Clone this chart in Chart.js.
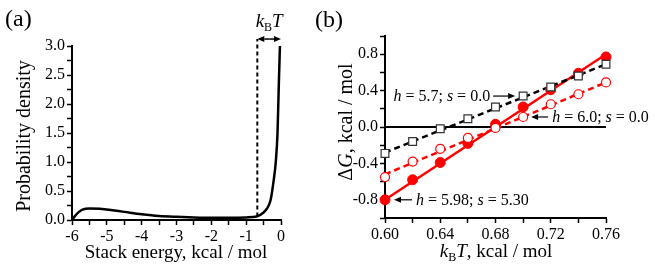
<!DOCTYPE html>
<html>
<head>
<meta charset="utf-8">
<script src="https://cdn.jsdelivr.net/npm/chart.js@4.4.1/dist/chart.umd.min.js"></script>
<style>
  html, body { margin: 0; padding: 0; background: #fff; }
  #wrap { position: relative; width: 655px; height: 276px; }
  .panel { position: absolute; top: 0; height: 276px; }
</style>
</head>
<body>
<div id="wrap">
  <div class="panel" style="left:0;width:300px"><canvas id="chartA" width="300" height="276"></canvas></div>
  <div class="panel" style="left:300px;width:355px"><canvas id="chartB" width="355" height="276"></canvas></div>
</div>
<script>
// panel (a): stack energy distribution
const energy  = [-6.0, -5.9, -5.8, -5.7, -5.5, -5.2, -5.0, -4.5, -4.0, -3.5, -3.0, -2.5, -2.0, -1.5, -1.0, -0.7, -0.5, -0.4, -0.3, -0.22, -0.15, -0.1, -0.06, -0.03];
const density = [0.0, 0.08, 0.14, 0.18, 0.20, 0.195, 0.18, 0.14, 0.10, 0.07, 0.055, 0.045, 0.04, 0.04, 0.045, 0.06, 0.13, 0.2, 0.34, 0.64, 1.0, 1.5, 2.4, 3.0];
const kbtWidth = 0.68;

// panel (b): free energy vs kBT
const temps  = [0.60, 0.62, 0.64, 0.66, 0.68, 0.70, 0.72, 0.74, 0.76];
const dgH57  = [-0.29, -0.16, -0.02, 0.09, 0.22, 0.34, 0.44, 0.56, 0.69];
const dgH60  = [-0.55, -0.38, -0.24, -0.12, -0.01, 0.11, 0.25, 0.36, 0.49];
const dgH598 = [-0.80, -0.58, -0.39, -0.18, 0.03, 0.22, 0.41, 0.59, 0.77];
const fitX   = [0.60, 0.76];
const fit57  = [-0.28, 0.69];
const fit60  = [-0.52, 0.49];
const fit598 = [-0.80, 0.80];
const noteText = ['h = 5.7; s = 0.0', 'h = 6.0; s = 0.0', 'h = 5.98; s = 5.30'];

const SERIF = '"Liberation Serif", "DejaVu Serif", serif';
const RED = '#ff0000';
Chart.defaults.font.family = SERIF;
Chart.defaults.color = '#000';

const pts = (xs, ys) => xs.map((x, i) => ({ x: x, y: ys[i] }));

function axis(min, max, step, label, size) {
  return {
    type: 'linear', min: min, max: max,
    grid: { drawOnChartArea: false, drawTicks: true, tickLength: 5, tickColor: '#000', tickWidth: 1.5 },
    border: { display: true, color: '#000', width: 2 },
    ticks: { stepSize: step, autoSkip: false, maxRotation: 0, minRotation: 0, color: '#000',
             font: { family: SERIF, size: 16 }, padding: 2, callback: label },
    afterFit: s => { if (s.isHorizontal()) s.height = size; else s.width = size; }
  };
}

// draws a run of text pieces with their own fonts
function richText(ctx, parts, x, y, align) {
  let w = 0;
  parts.forEach(p => { ctx.font = p.font; w += ctx.measureText(p.t).width; });
  let cx = align === 'right' ? x - w : (align === 'center' ? x - w / 2 : x);
  ctx.textAlign = 'left';
  ctx.textBaseline = 'alphabetic';
  parts.forEach(p => {
    ctx.font = p.font;
    ctx.fillText(p.t, cx, y + (p.dy || 0));
    cx += ctx.measureText(p.t).width;
  });
}

function noteParts(str, size) {
  return str.split(/([hs])/).filter(t => t).map(t => ({
    t: t, font: (t === 'h' || t === 's' ? 'italic ' : '') + size + 'px ' + SERIF
  }));
}

function arrow(ctx, x1, y1, x2, y2, head) {
  const a = Math.atan2(y2 - y1, x2 - x1);
  ctx.beginPath();
  ctx.moveTo(x1, y1);
  ctx.lineTo(x2 - head * Math.cos(a), y2 - head * Math.sin(a));
  ctx.stroke();
  ctx.beginPath();
  ctx.moveTo(x2, y2);
  ctx.lineTo(x2 - head * Math.cos(a) + 3 * Math.sin(a), y2 - head * Math.sin(a) - 3 * Math.cos(a));
  ctx.lineTo(x2 - head * Math.cos(a) - 3 * Math.sin(a), y2 - head * Math.sin(a) + 3 * Math.cos(a));
  ctx.closePath();
  ctx.fill();
}

const decorA = {
  id: 'decorA',
  afterDraw(chart) {
    const ctx = chart.ctx, x = chart.scales.x, y = chart.scales.y;
    ctx.save();
    ctx.fillStyle = '#000';
    ctx.strokeStyle = '#000';
    ctx.lineWidth = 1.5;
    // kBT bracket
    const ya = y.getPixelForValue(3.12);
    const x1 = x.getPixelForValue(-kbtWidth), x2 = x.getPixelForValue(0);
    arrow(ctx, (x1 + x2) / 2, ya, x2, ya, 7);
    arrow(ctx, (x1 + x2) / 2, ya, x1, ya, 7);
    richText(ctx, [
      { t: 'k', font: 'italic 19px ' + SERIF },
      { t: 'B', font: '12px ' + SERIF, dy: 4 },
      { t: 'T', font: 'italic 19px ' + SERIF }
    ], (x1 + x2) / 2, ya - 12, 'center');
    // panel letter and titles
    ctx.font = '24px ' + SERIF;
    ctx.fillText('(a)', 5, 26);
    richText(ctx, [{ t: 'Stack energy, kcal / mol', font: '19px ' + SERIF }], 176, 258, 'center');
    ctx.translate(30, 136);
    ctx.rotate(-Math.PI / 2);
    richText(ctx, [{ t: 'Probability density', font: '20px ' + SERIF }], 0, 0, 'center');
    ctx.restore();
  }
};

new Chart(document.getElementById('chartA'), {
  type: 'scatter',
  data: {
    datasets: [
      { data: pts(energy, density), showLine: true, borderColor: '#000', borderWidth: 2.5,
        pointRadius: 0, cubicInterpolationMode: 'monotone', clip: false },
      { data: [{ x: -kbtWidth, y: 0.06 }, { x: -kbtWidth, y: 3.12 }], showLine: true, borderColor: '#000',
        borderWidth: 2, borderDash: [4, 3], pointRadius: 0, clip: false }
    ]
  },
  options: {
    responsive: false, animation: false,
    layout: { padding: { left: 0, right: 19, top: 46, bottom: 0 } },
    plugins: { legend: { display: false }, tooltip: { enabled: false } },
    scales: {
      x: axis(-6, 0, 0.5, v => Math.abs(v - Math.round(v)) < 1e-6 ? String(Math.round(v)) : '', 56),
      y: axis(0, 3, 0.25, v => Math.round(v * 4) % 2 === 0 ? v.toFixed(1) : '', 72)
    }
  },
  plugins: [decorA]
});

const decorB = {
  id: 'decorB',
  afterDraw(chart) {
    const ctx = chart.ctx, x = chart.scales.x, y = chart.scales.y;
    ctx.save();
    ctx.fillStyle = '#000';
    ctx.strokeStyle = '#000';
    ctx.lineWidth = 1.2;
    const f = 16;
    // h = 5.7 note, pointing right at the square at 0.70
    let px = x.getPixelForValue(temps[5]), py = y.getPixelForValue(dgH57[5]);
    arrow(ctx, px - 30, py, px - 8, py, 7);
    richText(ctx, noteParts(noteText[0], f), px - 33, py + 5, 'right');
    // h = 6.0 note, pointing left at the circle at 0.70
    py = y.getPixelForValue(dgH60[5]);
    arrow(ctx, px + 25, py, px + 8, py, 7);
    richText(ctx, noteParts(noteText[1], f), px + 29, py + 5, 'left');
    // h = 5.98 note, pointing left at the first filled point
    px = x.getPixelForValue(temps[0]); py = y.getPixelForValue(dgH598[0]);
    arrow(ctx, px + 27, py, px + 9, py, 7);
    richText(ctx, noteParts(noteText[2], f), px + 31, py + 5, 'left');
    // panel letter and titles
    ctx.font = '24px ' + SERIF;
    ctx.textAlign = 'left';
    ctx.fillText('(b)', 15, 27);
    richText(ctx, [
      { t: 'k', font: 'italic 19px ' + SERIF },
      { t: 'B', font: '12px ' + SERIF, dy: 4 },
      { t: 'T', font: 'italic 19px ' + SERIF },
      { t: ', kcal / mol', font: '19px ' + SERIF }
    ], 196, 257, 'center');
    ctx.translate(52, 122);
    ctx.rotate(-Math.PI / 2);
    richText(ctx, [
      { t: '\u0394', font: '20px ' + SERIF },
      { t: 'G', font: 'italic 20px ' + SERIF },
      { t: ', kcal / mol', font: '20px ' + SERIF }
    ], 0, 0, 'center');
    ctx.restore();
  }
};

new Chart(document.getElementById('chartB'), {
  type: 'scatter',
  data: {
    datasets: [
      { data: pts(fitX, [0, 0]), showLine: true, borderColor: '#000', borderWidth: 2, pointRadius: 0, order: 20 },
      { data: pts(fitX, fit57), showLine: true, borderColor: '#000', borderWidth: 2.5, borderDash: [6, 4], pointRadius: 0, order: 10 },
      { data: pts(fitX, fit60), showLine: true, borderColor: RED, borderWidth: 2.5, borderDash: [6, 4], pointRadius: 0, order: 10 },
      { data: pts(fitX, fit598), showLine: true, borderColor: RED, borderWidth: 2.5, pointRadius: 0, order: 10, clip: false },
      { data: pts(temps, dgH57), pointStyle: 'rect', pointRadius: 5.5, borderColor: '#333', backgroundColor: '#fff', borderWidth: 1.2, order: 1, clip: false },
      { data: pts(temps, dgH60), pointStyle: 'circle', pointRadius: 4.5, borderColor: RED, backgroundColor: '#fff', borderWidth: 1.2, order: 1, clip: false },
      { data: pts(temps, dgH598), pointStyle: 'circle', pointRadius: 5, borderColor: RED, backgroundColor: RED, borderWidth: 1, order: 1, clip: false }
    ]
  },
  options: {
    responsive: false, animation: false,
    layout: { padding: { left: 0, right: 49, top: 36, bottom: 0 } },
    plugins: { legend: { display: false }, tooltip: { enabled: false } },
    scales: {
      x: axis(0.6, 0.76, 0.02, v => Math.round(v * 50) % 2 === 0 ? v.toFixed(2) : '', 58),
      y: axis(-1, 1, 0.2, v => {
        const r = Math.round(v * 5);
        return (r % 2 === 0 && Math.abs(r) < 5) ? (r / 5).toFixed(1) : '';
      }, 85)
    }
  },
  plugins: [decorB]
});
</script>
</body>
</html>
